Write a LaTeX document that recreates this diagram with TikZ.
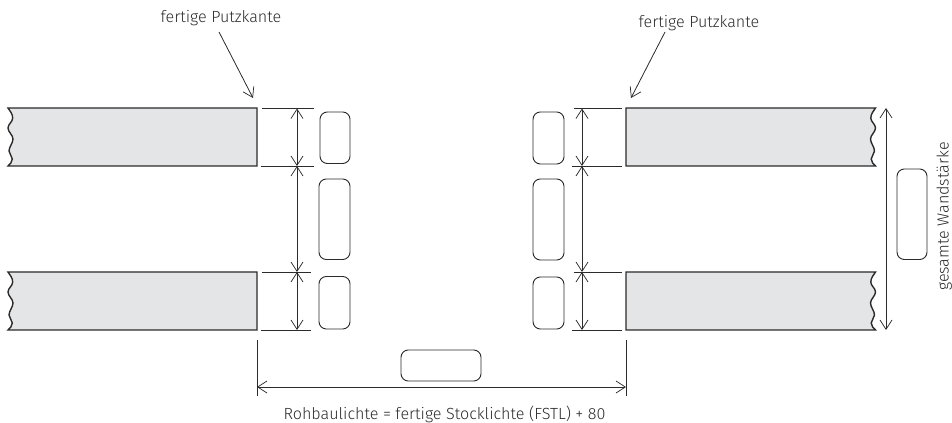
\documentclass[tikz,border=0pt]{standalone}
\usepackage{fontspec}
\setmainfont{Fira Sans Light}[BoldFont=Fira Sans]
\usetikzlibrary{arrows.meta}
\definecolor{wallgrey}{HTML}{E4E5E7}
\definecolor{ink}{HTML}{2B2B2B}
\tikzset{
  x=0.75pt,y=-0.75pt,
  wall/.style={draw=ink,fill=wallgrey,line width=1.05pt,line join=miter},
  slot/.style={draw=ink,line width=0.7pt,fill=white,rounded corners=5.5pt},
  barb/.tip={Straight Barb[length=7pt,width=9pt,line width=.55pt]},
  dim/.style={draw=ink,line width=0.65pt,barb-barb},
  ext/.style={draw=ink,line width=0.65pt},
  leader/.style={draw=ink,line width=0.6pt,-barb},
  lab/.style={text=ink,font=\fontsize{12.1}{14}\selectfont,inner sep=0pt}
}
\newcommand{\wallL}[2]{%
  \path[wall] (257,#1) -- (8,#1)
    .. controls (10,#1+3) and (12.7,#1+6) .. (12.7,#1+10)
    .. controls (12.7,#1+14) and (8,#1+16) .. (8,#1+20)
    .. controls (8,#1+24) and (13,#1+27) .. (13,#1+31)
    .. controls (13,#1+35) and (9,#1+39) .. (9,#1+43)
    .. controls (9,#1+46) and (12.3,#1+48) .. (12.3,#1+51)
    .. controls (12.3,#1+54) and (10,#1+56) .. (8,#2)
    -- (257,#2) -- cycle;}
\newcommand{\wallR}[2]{%
  \path[wall] (626,#1) -- (875.5,#1)
    .. controls (873.5,#1+3) and (870.8,#1+6) .. (870.8,#1+10)
    .. controls (870.8,#1+14) and (875.5,#1+16) .. (875.5,#1+20)
    .. controls (875.5,#1+24) and (870.5,#1+27) .. (870.5,#1+31)
    .. controls (870.5,#1+35) and (874.5,#1+39) .. (874.5,#1+43)
    .. controls (874.5,#1+46) and (871.2,#1+48) .. (871.2,#1+51)
    .. controls (871.2,#1+54) and (873.5,#1+56) .. (875.5,#2)
    -- (626,#2) -- cycle;}
\begin{document}
\begin{tikzpicture}
\useasboundingbox (0,0) rectangle (952,423);
\clip (0,0) rectangle (952,423);
% walls
\wallL{108}{166}
\wallL{272}{330}
\wallR{108}{166}
\wallR{272}{330}
% extension coordinates left
\coordinate (la1) at (262,108.5); \coordinate (la2) at (314,108.5);
\coordinate (lb1) at (261,166); \coordinate (lb2) at (314,166);
\coordinate (lc1) at (262,272); \coordinate (lc2) at (311,272);
\coordinate (ld1) at (261,330); \coordinate (ld2) at (311,330);
\draw[ext] (la1)--(la2) (lb1)--(lb2) (lc1)--(lc2) (ld1)--(ld2);
\coordinate (lA) at (297,108.5); \coordinate (lB) at (297,166);
\coordinate (lC) at (297,272); \coordinate (lD) at (297,330);
\draw[dim] (lA)--(lB); \draw[dim] (lB)--(lC); \draw[dim] (lC)--(lD);
% extension coordinates right
\coordinate (ra1) at (574,108.5); \coordinate (ra2) at (622,108.5);
\coordinate (rb1) at (572,166); \coordinate (rb2) at (622,166);
\coordinate (rc1) at (574,272); \coordinate (rc2) at (622,272);
\coordinate (rd1) at (572,330); \coordinate (rd2) at (622,330);
\draw[ext] (ra1)--(ra2) (rb1)--(rb2) (rc1)--(rc2) (rd1)--(rd2);
\coordinate (rA) at (582,108.5); \coordinate (rB) at (582,166);
\coordinate (rC) at (582,272); \coordinate (rD) at (582,330);
\draw[dim] (rA)--(rB); \draw[dim] (rB)--(rC); \draw[dim] (rC)--(rD);
% overall wall thickness
\coordinate (tA) at (886,108); \coordinate (tB) at (886,330);
\draw[dim] (tA)--(tB);
% rough opening
\coordinate (oa1) at (257,340); \coordinate (oa2) at (257,396);
\coordinate (ob1) at (626,340); \coordinate (ob2) at (626,396);
\draw[ext] (oa1)--(oa2) (ob1)--(ob2);
\coordinate (oA) at (257,387); \coordinate (oB) at (626,387);
\draw[dim] (oA)--(oB);
% blank value boxes
\draw[slot] (320,112) rectangle (350,163.5);
\draw[slot] (319,179) rectangle (350,259.5);
\draw[slot] (319,276.5) rectangle (350,329);
\draw[slot] (533,112) rectangle (564,164);
\draw[slot] (533,179) rectangle (564,260);
\draw[slot] (533,277) rectangle (564,329);
\draw[slot] (897,169) rectangle (927,259.5);
\draw[slot] (401,350) rectangle (481,381);
% labels
\node[lab] (tl) at (221,18) {fertige Putzkante};
\node[lab] (tr) at (699,23) {fertige Putzkante};
\node[lab] (tb) at (444.5,414) {Rohbaulichte = fertige Stocklichte (FSTL) + 80};
\node[lab,rotate=90,anchor=base] (tw) at (948.5,216.5) {gesamte Wandstärke};
% leaders
\coordinate (ls) at (219,32); \coordinate (rs) at (665,32);
\coordinate (lt) at (253,98); \coordinate (rt) at (631,98);
\draw[leader] (ls) -- (lt);
\draw[leader] (rs) -- (rt);
\end{tikzpicture}
\end{document}
